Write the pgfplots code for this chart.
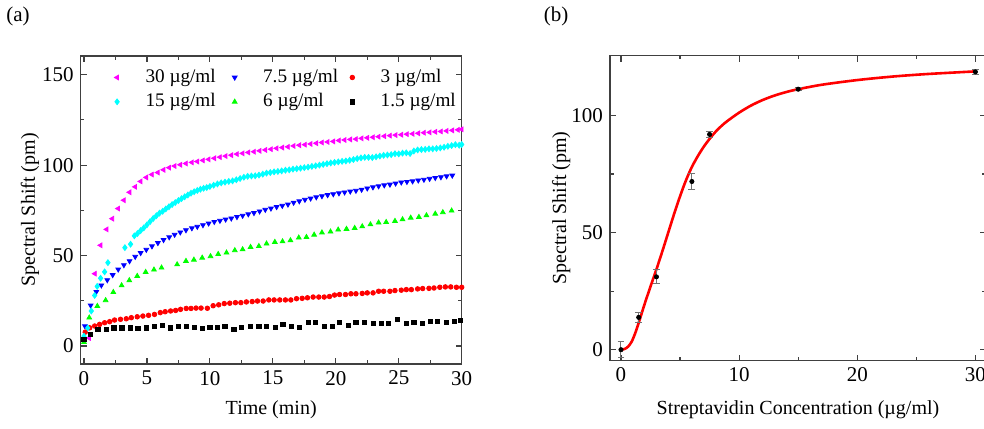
\documentclass[border=0pt]{standalone}
\usepackage{fontspec}
\setmainfont{Liberation Serif}
\usepackage{pgfplots}
\usepackage{pgfplotstable}
\pgfplotsset{compat=1.18}

\definecolor{cMag}{RGB}{255,0,255}
\definecolor{cCya}{RGB}{0,255,255}
\definecolor{cBlu}{RGB}{0,0,255}
\definecolor{cGrn}{RGB}{0,255,0}
\definecolor{cRed}{RGB}{255,0,0}

% (a) kinetics, time (min) vs spectral shift (pm)
\pgfplotstableread{
t v
0.4 4.5
0.87 40
1.32 55.7
1.8 64.5
2.25 70.4
2.72 76
3.17 80.6
3.62 85
4.07 88
4.5 91
4.95 93.2
5.4 94.8
5.87 95.9
6.32 97.4
6.77 98.6
7.2 99.5
7.65 100.2
8.1 100.9
8.57 101.5
9.0 102
9.45 102.6
9.9 103.2
10.35 103.8
10.8 104.4
11.25 105.0
11.7 105.5
12.15 106.1
12.6 106.5
13.05 107.0
13.5 107.4
13.95 107.9
14.4 108.4
14.85 108.8
15.3 109.3
15.75 109.7
16.2 110.1
16.65 110.6
17.1 111.0
17.55 111.3
18.0 111.7
18.45 112.1
18.9 112.5
19.35 112.8
19.8 113.1
20.25 113.6
20.7 113.9
21.15 114.2
21.6 114.4
22.05 114.8
22.5 115.1
22.95 115.4
23.4 115.7
23.85 116.0
24.3 116.3
24.75 116.6
25.2 116.8
25.65 117.1
26.1 117.3
26.55 117.6
27.0 117.9
27.45 118.1
27.9 118.4
28.35 118.6
28.8 118.9
29.25 119.2
29.7 119.5
30.0 119.8
}\conca

\pgfplotstableread{
t v
0 5.5
0.3 10
0.58 19.4
0.85 28
1.05 33
1.32 37.5
1.64 41
1.9 46.1
3.25 54.4
3.7 56.3
4.0 60.9
4.25 62.2
4.5 63.8
4.75 65.3
5.0 67.0
5.25 68.8
5.5 70.5
5.75 72.0
6.0 73.5
6.25 74.5
6.5 75.8
6.75 77.0
7.0 78.2
7.25 79.3
7.5 80.4
7.75 81.5
8.0 82.5
8.25 83.5
8.5 84.5
8.75 85.3
9.0 86.0
9.25 86.7
9.5 87.2
9.75 87.6
10.0 88.2
10.3 88.9
10.6 89.6
10.9 90.2
11.2 90.6
11.5 91.0
11.8 91.3
12.1 91.9
12.4 92.6
12.7 93.3
13.0 93.8
13.3 94.0
13.6 94.1
13.9 94.5
14.2 95.0
14.5 95.6
14.8 95.9
15.1 96.3
15.4 96.5
15.7 96.8
16.0 97.2
16.3 97.4
16.6 97.8
16.9 98.0
17.2 98.3
17.5 98.6
17.8 98.9
18.1 99.3
18.4 99.6
18.7 100.0
19.0 100.4
19.3 100.8
19.6 101.2
19.9 101.5
20.2 101.8
20.5 102.1
20.8 102.3
21.1 102.7
21.4 103.1
21.7 103.6
22.0 104.0
22.3 104.3
22.6 104.3
22.9 104.2
23.2 104.6
23.5 105.0
23.8 105.4
24.1 105.6
24.4 105.8
24.7 106.3
25.0 106.2
25.3 106.6
25.6 106.8
25.9 106.4
26.2 107.8
26.5 108.4
26.8 108.6
27.1 108.7
27.4 109.0
27.7 109.0
28.0 109.2
28.3 109.5
28.6 109.9
28.9 110.4
29.2 110.8
29.5 111.3
29.8 111.0
30.0 111.4
}\concb

\pgfplotstableread{
t v
0.08 11
0.53 22.5
0.98 30
1.38 33.6
1.85 36.5
2.28 39.3
2.72 42.4
3.17 44.8
3.62 47
4.07 49.4
4.5 51.5
4.95 53.3
5.4 55.2
5.87 57
6.32 58.7
6.77 60.2
7.2 61.6
7.65 62.9
8.1 64.1
8.57 65.2
9.0 66.0
9.45 66.9
9.9 67.8
10.35 68.7
10.8 69.3
11.25 70.0
11.7 70.6
12.15 71.4
12.6 72.1
13.05 72.9
13.5 73.6
13.95 74.5
14.4 75.4
14.85 76.1
15.3 76.9
15.75 77.6
16.2 78.3
16.65 79.3
17.1 80.1
17.55 80.9
18.0 81.6
18.45 82.3
18.9 82.9
19.35 83.5
19.8 84.0
20.25 84.5
20.7 85.0
21.15 85.5
21.6 85.9
22.05 86.5
22.5 87.2
22.95 87.8
23.4 88.4
23.85 88.9
24.3 89.3
24.75 89.9
25.2 90.5
25.65 90.8
26.1 91.1
26.55 91.6
27.0 92.0
27.45 92.5
27.9 93.0
28.35 93.4
28.8 93.9
29.25 94.3
}\concc

\pgfplotstableread{
t v
0 2.2
0.42 15.7
1.06 22.1
1.72 25.3
2.33 29.8
2.99 33.5
3.6 36.3
4.23 38.7
4.9 40.9
5.56 42.2
6.16 43.3
7.4 45.1
8.1 47
8.73 47.7
9.39 48.8
10.05 49.6
10.66 50.8
11.32 51.6
11.98 52.9
12.6 53.4
13.23 54.7
13.89 55.2
14.5 56.6
15.16 57.5
15.77 57.8
16.4 58.4
17.06 59.9
17.67 60.2
18.28 61.5
18.9 62.7
19.58 63.2
20.19 64.3
20.85 64.7
21.5 65.2
22.1 66.1
22.75 67.2
23.4 68.2
24.0 68.5
24.7 69.1
25.3 70.0
25.95 70.9
26.6 71.3
27.2 72.2
27.9 73.1
28.5 73.9
29.2 74.8
}\concd

\pgfplotstableread{
t v
0 4
0.1 7.7
0.45 10.1
0.85 11.1
1.24 12
1.64 12.9
2.04 13.5
2.43 14.4
2.9 14.8
3.36 15.1
3.76 15.7
4.23 16.2
4.68 16.6
5.13 17
5.6 17.5
6.06 18.5
6.45 19
6.88 19.4
7.28 19.7
7.67 20.3
8.12 20.8
8.5 20.8
8.9 21.0
9.3 21.0
9.8 20.9
10.26 22.3
10.7 22.8
11.14 23.5
11.58 23.7
12.03 24.0
12.46 24.0
12.9 24.4
13.36 24.6
13.78 24.9
14.23 24.9
14.68 25.5
15.1 25.5
15.55 25.5
16.0 25.5
16.43 25.5
16.88 26.2
17.33 26.4
17.75 26.7
18.2 27.1
18.65 27.1
19.08 27.1
19.5 27.4
19.9 28.2
20.3 28.5
20.77 28.5
21.2 28.9
21.6 28.9
22.1 29.1
22.5 29.4
22.96 29.4
23.4 30.3
23.8 30.3
24.3 30.3
24.7 30.7
25.2 30.9
25.6 31.2
26.0 31.2
26.5 31.6
26.9 31.8
27.4 31.9
27.8 32.1
28.26 32.5
28.7 32.7
29.13 32.7
29.58 32.5
30.0 32.5
}\conce

\pgfplotstableread{
t v
0 3.5
0.5 6.5
1.11 9.2
1.75 9.2
2.38 10.1
3.02 10.1
3.68 10.1
4.29 9.6
4.95 10.1
5.6 10.7
6.2 11.4
6.85 10.1
7.5 10.7
8.12 11.1
8.78 10.3
9.4 9.6
10.0 10.2
10.6 10.2
11.2 11.1
11.9 9.2
12.5 10.2
13.2 10.7
13.9 10.7
14.5 10.7
15.2 10.5
15.8 12.0
16.5 11.1
17.1 10.2
17.8 13.3
18.4 12.9
19.1 10.7
19.7 11.1
20.3 13.3
21.0 11.4
21.6 12.9
22.3 12.9
22.96 12.4
23.6 12.4
24.2 12.4
24.9 14.8
25.6 12.4
26.2 12.9
26.9 12.4
27.5 13.5
28.1 13.8
28.8 12.9
29.4 13.8
29.9 14.2
}\concf

% (b) dose response, measured points and fitted curve
\pgfplotstableread{
c v e
0 0 3.4
1.5 13.8 2.1
3 31.1 3.0
6 71.8 3.4
7.5 91.9 1.3
15 111.2 0.7
30 118.6 1.0
}\dose

\pgfplotstableread{
c v
0 0
0.3 0.3
0.6 1.3
0.9 3.4
1.2 7
1.5 11.5
2.0 19.5
2.5 27
3.0 34.3
3.5 42
4.0 50
4.5 58
5.0 65.5
5.5 72.3
6.0 78
6.5 82.6
7.0 86.6
7.5 90
8.0 93
8.5 95.5
9.0 97.6
10 101.2
11 104.2
12 106.6
13 108.5
14 110
15 111.2
17 113.1
20 115.1
23 116.6
26 117.7
30 118.8
}\fit

\pgfplotsset{
  panel/.style={
    scale only axis,
    axis line style={black!75,line width=0.6pt},
    tick style={black!75,line width=0.6pt},
    major tick length=3pt,
    minor tick length=1.8pt,
    tick align=inside,
    minor x tick num=1,
    minor y tick num=1,
    tick label style={font=\fontsize{10.5}{12}\selectfont},
    label style={font=\fontsize{11}{13}\selectfont},
    /pgf/number format/assume math mode=true,
  },
}
\newcommand{\legtxt}[1]{\makebox[36pt][l]{#1}}

\begin{document}
\begin{tikzpicture}
\begin{axis}[panel,
  at={(40.35pt,-182pt)},anchor=south west,
  width=190.5pt,height=154pt,
  xmin=-0.26,xmax=30,ymin=-9.9,ymax=160.3,
  xtick={0,5,...,30},ytick={0,50,100,150},
  xlabel={Time (min)},ylabel={Spectral Shift (pm)},
  every axis x label/.style={at={(axis description cs:0.5,-0.149)},anchor=center},
  every axis y label/.style={at={(axis description cs:-0.133,0.5)},rotate=90,anchor=center},
  legend columns=3,
  legend cell align=left,
  legend image code/.code={\draw[#1] plot coordinates {(3pt,0pt)}; \path (0pt,0pt) (15pt,0pt);},
  legend style={draw=none,fill=none,at={(axis description cs:0.062,0.984)},anchor=north west,
    font=\fontsize{9.6}{11.5}\selectfont,row sep=0pt,column sep=0pt,
    /tikz/every even column/.append style={column sep=3.4pt}},
]
\addplot[only marks,mark=triangle*,mark size=1.35pt,color=cMag,mark options={rotate=90}] table {\conca};
\addlegendentry{\legtxt{30 µg/ml}}
\addplot[only marks,mark=triangle*,mark size=1.35pt,color=cBlu,mark options={rotate=180}] table {\concc};
\addlegendentry{\legtxt{7.5 µg/ml}}
\addplot[only marks,mark=*,mark size=1.15pt,color=cRed] table {\conce};
\addlegendentry{\legtxt{3 µg/ml}}
\addplot[only marks,mark=diamond*,mark size=1.45pt,color=cCya] table {\concb};
\addlegendentry{\legtxt{15 µg/ml}}
\addplot[only marks,mark=triangle*,mark size=1.35pt,color=cGrn] table {\concd};
\addlegendentry{\legtxt{6 µg/ml}}
\addplot[only marks,mark=square*,mark size=1.05pt,color=black] table {\concf};
\addlegendentry{\legtxt{1.5 µg/ml}}
\end{axis}

\begin{axis}[panel,
  at={(305pt,-180.35pt)},anchor=south west,
  width=188pt,height=152.5pt,
  xmin=-0.93,xmax=30.9,ymin=-4.7,ymax=125.5,
  xtick={0,10,20,30},ytick={0,50,100},
  xlabel={Streptavidin Concentration (µg/ml)},ylabel={Spectral Shift (pm)},
  every axis x label/.style={at={(axis description cs:0.5,-0.162)},anchor=center},
  every axis y label/.style={at={(axis description cs:-0.13,0.5)},rotate=90,anchor=center},
]
\addplot[cRed,line width=1.3pt,smooth] table {\fit};
\addplot[only marks,mark=*,mark size=1.05pt,black,
  error bars/.cd,y dir=both,y explicit,
  error bar style={black!55,line width=0.5pt},
  error mark options={rotate=90,mark size=1.7pt,black!55,line width=0.5pt}]
  table[x=c,y=v,y error=e] {\dose};
\end{axis}

\node[font=\fontsize{10.5}{12}\selectfont] at (9pt,-8pt) {(a)};
\node[font=\fontsize{10.5}{12}\selectfont] at (278pt,-8pt) {(b)};

\pgfresetboundingbox
\path[use as bounding box] (0,0) rectangle (492pt,-214pt);
\end{tikzpicture}
\end{document}
